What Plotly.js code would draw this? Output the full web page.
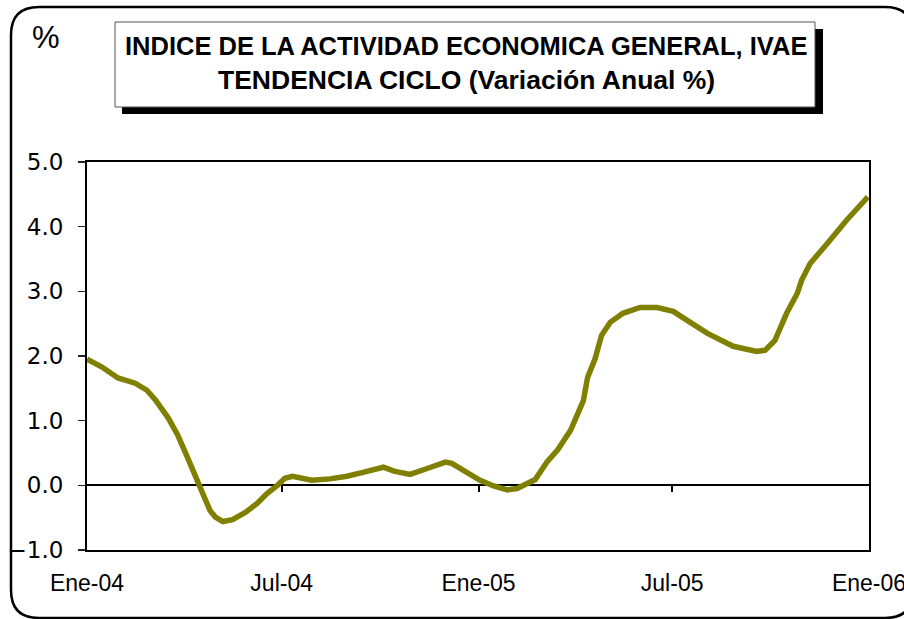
<!DOCTYPE html>
<html>
<head>
<meta charset="utf-8">
<script src="https://cdn.plot.ly/plotly-3.0.1.min.js"></script>
<style>
  html, body { margin: 0; padding: 0; background: #ffffff; }
  #chart { width: 904px; height: 619px; }
</style>
</head>
<body>
<div id="chart"></div>
<script>
// ---- Data ----
const dates = [
  '2004-01-01','2004-01-15','2004-01-30','2004-02-15','2004-02-26','2004-03-05','2004-03-17','2004-03-26',
  '2004-04-04','2004-04-11','2004-04-18','2004-04-25','2004-04-30','2004-05-07','2004-05-16','2004-05-28',
  '2004-06-08','2004-06-17','2004-06-27','2004-07-04','2004-07-11','2004-07-29','2004-08-15','2004-08-31',
  '2004-09-15','2004-10-04','2004-10-14','2004-10-29','2004-11-14','2004-12-01','2004-12-07','2004-12-21',
  '2005-01-02','2005-01-15','2005-01-28','2005-02-06','2005-02-23','2005-03-06','2005-03-16','2005-03-28',
  '2005-04-03','2005-04-09','2005-04-13','2005-04-20','2005-04-26','2005-05-04','2005-05-16','2005-06-01',
  '2005-06-17','2005-07-02','2005-07-15','2005-08-03','2005-08-27','2005-09-18','2005-09-26','2005-10-05',
  '2005-10-16','2005-10-26','2005-10-30','2005-11-07','2005-11-23','2005-12-11','2005-12-31'
];
const values = [
  1.95, 1.83, 1.66, 1.58, 1.47, 1.32, 1.04, 0.77,
  0.43, 0.15, -0.12, -0.39, -0.49, -0.56, -0.53, -0.42,
  -0.28, -0.13, 0.00, 0.11, 0.14, 0.08, 0.10, 0.14,
  0.20, 0.28, 0.22, 0.17, 0.26, 0.36, 0.34, 0.20,
  0.08, -0.01, -0.07, -0.05, 0.09, 0.36, 0.55, 0.85,
  1.08, 1.31, 1.67, 1.96, 2.32, 2.52, 2.66, 2.75,
  2.75, 2.69, 2.55, 2.35, 2.15, 2.07, 2.09, 2.24,
  2.66, 2.97, 3.17, 3.43, 3.74, 4.10, 4.46
];
const tickDates = ['2004-01-01','2004-07-01','2005-01-01','2005-07-01','2006-01-01'];
const tickLabels = ['Ene-04','Jul-04','Ene-05','Jul-05','Ene-06'];
const innerTickDates = ['2004-07-01','2005-01-01','2005-07-01'];
const xRange = ['2004-01-01','2006-01-01'];
const yRange = [-1, 5];
const titleLine1 = 'INDICE DE LA ACTIVIDAD ECONOMICA GENERAL, IVAE';
const titleLine2 = 'TENDENCIA CICLO (Variación Anual %)';
const unitLabel = '%';

// ---- Geometry helpers (pixels -> paper) ----
const W = 904, H = 619;
const M = {l: 87, r: 35, t: 162, b: 69};
const pw = W - M.l - M.r, ph = H - M.t - M.b;
const px = x => (x - M.l) / pw;
const py = y => (H - M.b - y) / ph;

// rounded outer frame
const fx0 = px(11), fx1 = px(913), fy0 = py(618), fy1 = py(7);
const rx = 28 / pw, ry = 28 / ph;
const framePath =
  `M ${fx0+rx},${fy1} L ${fx1-rx},${fy1} Q ${fx1},${fy1} ${fx1},${fy1-ry} ` +
  `L ${fx1},${fy0+ry} Q ${fx1},${fy0} ${fx1-rx},${fy0} ` +
  `L ${fx0+rx},${fy0} Q ${fx0},${fy0} ${fx0},${fy0+ry} ` +
  `L ${fx0},${fy1-ry} Q ${fx0},${fy1} ${fx0+rx},${fy1} Z`;

const zeroPos = (0 - yRange[0]) / (yRange[1] - yRange[0]);

const traces = [
  {
    x: dates, y: values, type: 'scatter', mode: 'lines',
    line: {color: '#808000', width: 5.5},
    hoverinfo: 'x+y', showlegend: false
  },
  {
    x: dates, y: values, type: 'scatter', mode: 'lines', xaxis: 'x2',
    line: {color: 'rgba(0,0,0,0)', width: 0},
    hoverinfo: 'skip', showlegend: false
  }
];

const layout = {
  width: W, height: H,
  margin: M,
  paper_bgcolor: '#ffffff', plot_bgcolor: '#ffffff',
  showlegend: false,
  xaxis: {
    type: 'date', range: xRange,
    tickmode: 'array', tickvals: tickDates, ticktext: tickLabels,
    ticks: '', showgrid: false, zeroline: false,
    showline: true, mirror: true, linecolor: '#000000', linewidth: 2,
    ticklabelstandoff: 11, ticklabeloverflow: 'allow',
    tickfont: {family: 'Liberation Sans, Arial, sans-serif', size: 23, color: '#000000'}
  },
  xaxis2: {
    type: 'date', range: xRange, overlaying: 'x', anchor: 'free', position: zeroPos,
    tickmode: 'array', tickvals: innerTickDates,
    ticks: 'outside', ticklen: 6, tickwidth: 2, tickcolor: '#000000',
    showticklabels: false, showgrid: false, zeroline: false, showline: false
  },
  yaxis: {
    range: yRange, dtick: 1, tick0: 0, tickformat: '.1f',
    ticks: 'outside', ticklen: 7, tickwidth: 1.5, tickcolor: '#222222',
    showgrid: false,
    zeroline: true, zerolinecolor: '#000000', zerolinewidth: 2,
    showline: true, mirror: true, linecolor: '#000000', linewidth: 2,
    ticklabelstandoff: 10,
    tickfont: {family: 'DejaVu Sans, sans-serif', size: 23, color: '#000000'}
  },
  shapes: [
    {type: 'path', xref: 'paper', yref: 'paper', path: framePath,
     line: {color: '#000000', width: 2.5}, fillcolor: 'rgba(0,0,0,0)', layer: 'above'},
    {type: 'rect', xref: 'paper', yref: 'paper',
     x0: px(122), x1: px(823), y0: py(114), y1: py(29),
     line: {width: 0}, fillcolor: '#000000', layer: 'above'},
    {type: 'rect', xref: 'paper', yref: 'paper',
     x0: px(115), x1: px(815), y0: py(107), y1: py(22),
     line: {color: '#555555', width: 1}, fillcolor: '#ffffff', layer: 'above'}
  ],
  annotations: [
    {text: '<b>' + titleLine1 + '</b>', xref: 'paper', yref: 'paper',
     x: px(466), y: py(46), xanchor: 'center', yanchor: 'middle', showarrow: false,
     font: {family: 'Liberation Sans, Arial, sans-serif', size: 25.5, color: '#000000'}},
    {text: '<b>' + titleLine2 + '</b>', xref: 'paper', yref: 'paper',
     x: px(466), y: py(80), xanchor: 'center', yanchor: 'middle', showarrow: false,
     font: {family: 'Liberation Sans, Arial, sans-serif', size: 26.5, color: '#000000'}},
    {text: unitLabel, xref: 'paper', yref: 'paper',
     x: px(46), y: py(37), xanchor: 'center', yanchor: 'middle', showarrow: false,
     font: {family: 'Liberation Sans, Arial, sans-serif', size: 31, color: '#000000'}}
  ]
};

Plotly.newPlot('chart', traces, layout, {displayModeBar: false, staticPlot: true});
</script>
</body>
</html>
